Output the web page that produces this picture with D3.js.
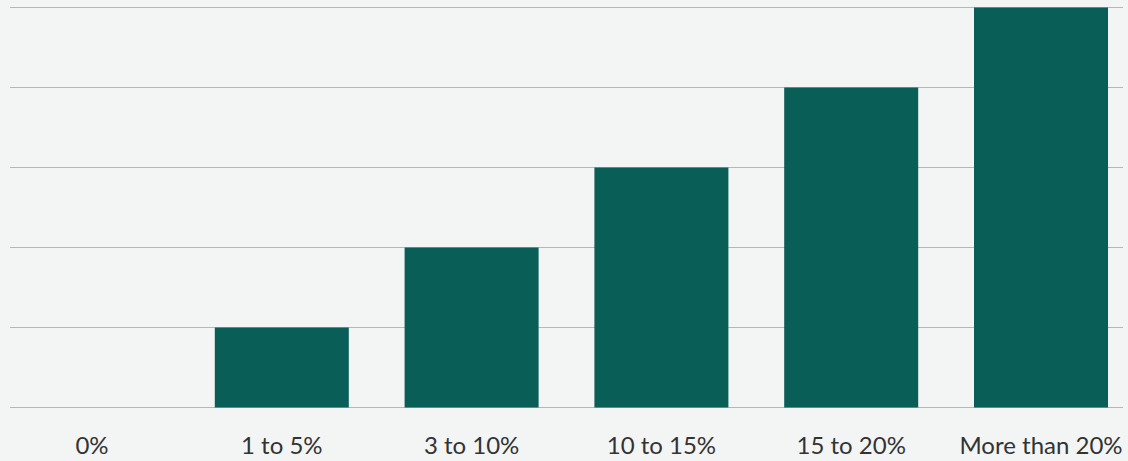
<!DOCTYPE html>
<html>
<head>
<meta charset="utf-8">
<script src="https://cdn.jsdelivr.net/npm/d3@7"></script>
<style>
  html, body { margin: 0; padding: 0; background: #f2f5f4; }
  svg { display: block; }
  .tick-label { font-family: Lato, "Open Sans", sans-serif; font-size: 24px; fill: #333; }
</style>
</head>
<body>
<svg id="chart" width="1128" height="461"></svg>
<script>
const categories = ["0%", "1 to 5%", "3 to 10%", "10 to 15%", "15 to 20%", "More than 20%"];
const values = [0, 1, 2, 3, 4, 5];
const gridTicks = [0, 1, 2, 3, 4, 5];

const width = 1128, height = 461;
const svg = d3.select("#chart");

svg.append("rect").attr("width", width).attr("height", height).attr("fill", "#f2f5f4");

const x = d3.scaleBand()
  .domain(categories)
  .range([10, 1123])
  .paddingInner(0.294)
  .paddingOuter(0.079);

const y = d3.scaleLinear().domain([0, 5]).range([407.5, 7.5]);

// horizontal gridlines
svg.append("g")
  .selectAll("line")
  .data(gridTicks)
  .join("line")
  .attr("x1", 10)
  .attr("x2", 1123)
  .attr("y1", d => y(d))
  .attr("y2", d => y(d))
  .attr("stroke", "#b4b9b7")
  .attr("stroke-width", 1);

// bars
svg.append("g")
  .selectAll("rect")
  .data(values)
  .join("rect")
  .attr("x", (d, i) => x(categories[i]))
  .attr("width", x.bandwidth())
  .attr("y", d => y(d))
  .attr("height", d => y(0) - y(d))
  .attr("fill", "#0a5e58");

// category labels
const xAxis = d3.axisBottom(x).tickSize(0).tickPadding(0);
const ax = svg.append("g").attr("transform", `translate(0, ${y(0)})`).call(xAxis);
ax.select(".domain").remove();
ax.selectAll("text")
  .attr("class", "tick-label")
  .attr("dy", null)
  .attr("y", 46)
  .attr("font-size", null)
  .attr("font-family", null)
  .attr("fill", null);
ax.attr("font-size", null).attr("font-family", null);
</script>
</body>
</html>
